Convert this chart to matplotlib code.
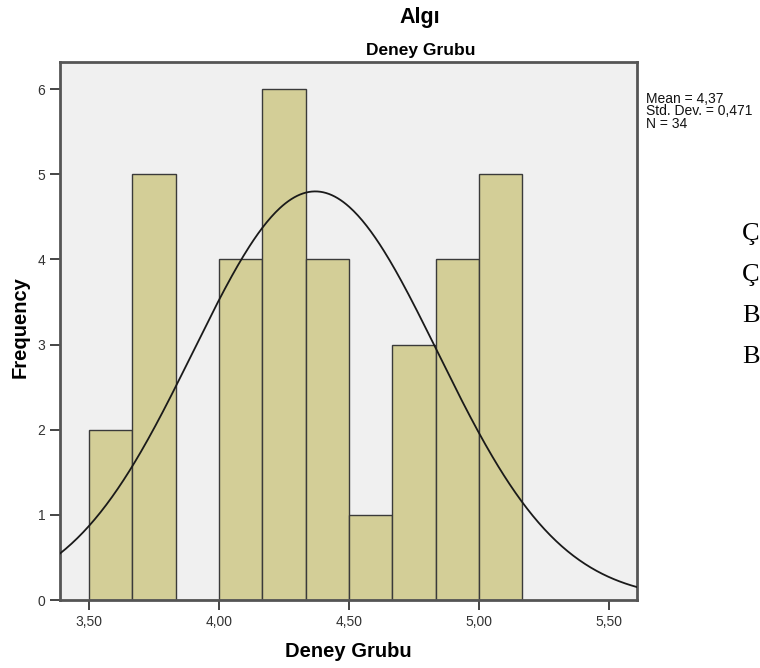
import numpy as np
import matplotlib
matplotlib.use("Agg")
import matplotlib.pyplot as plt

plt.rcParams["font.family"] = ["Liberation Sans", "DejaVu Sans"]

# histogram bins (edges) and counts
bin_edges = [3.5, 3.6667, 3.8333, 4.0, 4.1667, 4.3333, 4.5, 4.6667, 4.8333, 5.0, 5.1667]
counts = [2, 5, 0, 4, 6, 4, 1, 3, 4, 5]

mean = 4.37
std = 0.471
n = 34

x_ticks = [3.5, 4.0, 4.5, 5.0, 5.5]
x_tick_labels = ["3,50", "4,00", "4,50", "5,00", "5,50"]
y_ticks = [0, 1, 2, 3, 4, 5, 6]

side_letters = ["Ç", "Ç", "B", "B"]
side_baselines = [240, 281, 322, 363]

W, H = 760, 668
fig = plt.figure(figsize=(7.6, 6.68), dpi=100)
ax = fig.add_axes([60 / W, 68 / H, 577 / W, 538 / H])
ax.set_facecolor("#f0f0f0")

widths = np.diff(bin_edges)
ax.bar(bin_edges[:-1], counts, width=widths, align="edge",
       color="#d3ce97", edgecolor="#3a3a3a", linewidth=1.0, zorder=2)

# fitted normal curve, scaled to counts
bw = widths.mean()
xs = np.linspace(3.388, 5.608, 400)
ys = n * bw * np.exp(-0.5 * ((xs - mean) / std) ** 2) / (std * np.sqrt(2 * np.pi))
ax.plot(xs, ys, color="#1a1a1a", linewidth=1.3, zorder=3)

ax.set_xlim(3.388, 5.608)
ax.set_ylim(0, 6.32)
ax.set_xticks(x_ticks)
ax.set_xticklabels(x_tick_labels)
ax.set_yticks(y_ticks)
ax.tick_params(axis="both", labelsize=10, color="#444444", labelcolor="#333333",
               length=7, width=1.4)

for s in ax.spines.values():
    s.set_color("#555555")
    s.set_linewidth(2.0)

fig.text(348 / W, 1 - 657 / H, "Deney Grubu", ha="center", va="baseline",
         fontsize=14.5, fontweight="bold")
fig.text(20 / W, 1 - 327 / H, "Frequency", ha="center", va="center",
         rotation=90, fontsize=14.5, fontweight="bold")

fig.text(420 / W, 1 - 23 / H, "Algı", ha="center", va="baseline",
         fontsize=15.5, fontweight="bold")
fig.text(421 / W, 1 - 55 / H, "Deney Grubu", ha="center", va="baseline",
         fontsize=12.5, fontweight="bold")

fig.text(646 / W, 1 - 92 / H,
         "Mean = %s\nStd. Dev. = %s\nN = %d" % ("4,37", "0,471", n),
         ha="left", va="top", fontsize=10, linespacing=0.85, color="#111111")

for ch, yb in zip(side_letters, side_baselines):
    fig.text(742 / W, 1 - yb / H, ch, ha="left", va="baseline",
             fontsize=19, family=["Liberation Serif", "DejaVu Serif"])

fig.savefig("out.png", dpi=100)
